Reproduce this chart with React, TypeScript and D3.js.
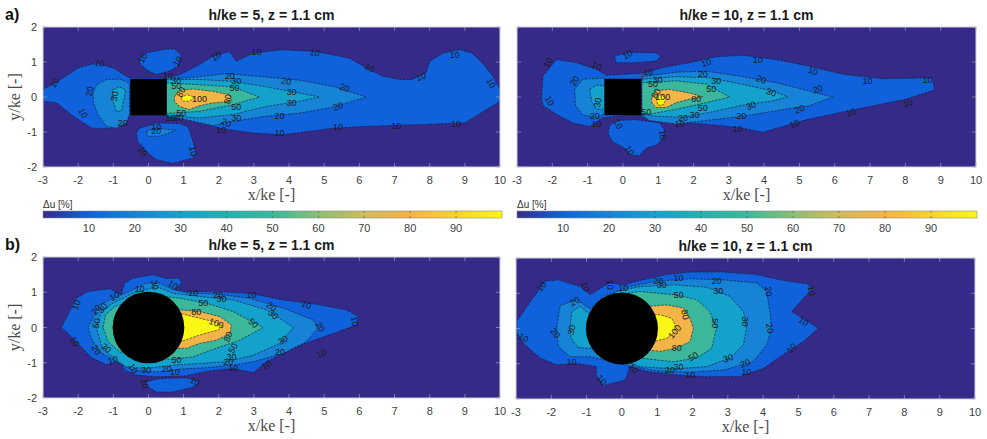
import * as d3 from "d3";

type Pt = [number, number];
type Lbl = [number, number, string, number];

const W = 987;
const H = 439;

const xTicks = [-3, -2, -1, 0, 1, 2, 3, 4, 5, 6, 7, 8, 9, 10];
const yTicks = [-2, -1, 0, 1, 2];
const cbarTicks = [10, 20, 30, 40, 50, 60, 70, 80, 90];
const parulaLevels = [0, 10, 20, 30, 40, 50, 60, 70, 80, 90, 100];
const parulaColors = ["#352a87", "#0f62dc", "#1683d6", "#12a2cc", "#22b2b0", "#3bb89c", "#8bbf76", "#d0bb5c", "#f4b446", "#f6d52a", "#f9f714"];
const titles = ["h/ke = 5, z = 1.1 cm", "h/ke = 10, z = 1.1 cm", "h/ke = 5, z = 1.1 cm", "h/ke = 10, z = 1.1 cm"];
const obstacleHalfSide = 0.52;
const cylinderRadius = 1.02;

// ---- a) square element, h/ke = 5
const sq5Level10: Pt[] = [[-3,0.21],[-2.57,0.45],[-2.0,0.83],[-1.5,0.97],[-1.0,0.83],[-0.55,0.55],[0.52,0.55],[0.9,0.64],[1.45,0.92],[1.83,1.16],[2.3,1.3],[2.5,1.02],[2.97,1.25],[3.82,1.35],[4.77,1.3],[5.72,1.11],[6.2,0.83],[6.67,0.59],[7.14,0.5],[7.5,0.5],[7.9,0.69],[8.0,1.02],[8.4,1.26],[8.85,1.35],[9.2,1.26],[9.5,0.97],[9.8,0.59],[10,0.21],[10,-0.12],[9.0,-0.74],[7.6,-0.79],[6.2,-0.84],[5.25,-0.89],[3.82,-1.08],[2.97,-1.03],[2.0,-0.89],[1.45,-0.69],[0.9,-0.55],[0.52,-0.52],[-0.52,-0.52],[-0.7,-0.75],[-1.1,-0.9],[-1.6,-0.89],[-2.1,-0.58],[-2.6,-0.17],[-3,-0.12]];
const sq5Top10: Pt[] = [[-0.25,1.11],[-0.06,1.26],[0.51,1.37],[0.74,1.37],[0.93,1.21],[0.84,0.88],[0.6,0.74],[0.22,0.64],[-0.06,0.78],[-0.25,0.97]];
const sq5Bottom10: Pt[] = [[-0.25,-0.89],[0.22,-0.74],[0.89,-0.76],[1.12,-0.84],[1.22,-1.12],[1.36,-1.6],[1.27,-1.74],[0.7,-1.89],[0.22,-1.79],[-0.01,-1.6],[-0.3,-1.27],[-0.35,-1.03]];
const sq5Bottom20: Pt[] = [[-0.06,-0.98],[0.22,-0.89],[0.79,-0.95],[0.32,-1.12],[-0.02,-1.12]];
const sq5Left20: Pt[] = [[-1.58,0.11],[-1.48,0.35],[-1.2,0.5],[-0.82,0.51],[-0.54,0.4],[-0.54,-0.5],[-0.63,-0.74],[-0.91,-0.89],[-1.2,-0.84],[-1.44,-0.5],[-1.56,-0.17]];
const sq5Left30: Pt[] = [[-1.01,0.21],[-0.82,0.29],[-0.65,0.21],[-0.7,-0.08],[-0.77,-0.41],[-0.91,-0.41],[-1.01,-0.12]];
const sq5Wake20: Pt[] = [[0.51,0.57],[1.08,0.54],[2.21,0.67],[3.35,0.57],[4.3,0.48],[5.25,0.3],[6.2,0],[5.25,-0.29],[4.3,-0.46],[3.35,-0.55],[2.4,-0.7],[1.83,-0.82],[1.08,-0.65],[0.51,-0.55]];
const sq5Wake30: Pt[] = [[0.51,0.5],[1.45,0.5],[2.4,0.45],[3.35,0.29],[4.3,0.11],[4.87,0],[4.3,-0.12],[3.35,-0.27],[2.4,-0.5],[1.45,-0.6],[0.51,-0.53]];
const sq5Wake50: Pt[] = [[0.51,0.4],[1.45,0.35],[2.4,0.29],[3.16,0],[2.4,-0.22],[1.45,-0.41],[0.7,-0.46],[0.51,-0.46]];
const sq5Wake80: Pt[] = [[0.74,0.02],[0.88,0.19],[1.27,0.23],[1.83,0.16],[2.31,0.07],[2.36,-0.12],[1.83,-0.17],[1.45,-0.25],[1.16,-0.36],[0.88,-0.27],[0.74,-0.12]];
const sq5Wake100: Pt[] = [[0.93,-0.03],[1.08,0.07],[1.31,0],[1.17,-0.12],[0.98,-0.12]];
const sq5Labels: Lbl[] = [[-2.67,0.4,"10",-60],[-1.39,0.97,"10",15],[-1.67,0.16,"20",-80],[-0.96,0.02,"30",-80],[-1.86,-0.46,"10",60],[-0.73,-0.74,"20",0],[-0.16,1.11,"10",-60],[0.84,1.02,"10",-60],[1.93,1.16,"10",-30],[3.07,1.28,"10",0],[4.73,1.26,"10",10],[6.29,0.83,"10",30],[7.76,0.57,"10",-20],[8.71,1.21,"10",0],[9.75,0.4,"10",60],[2.31,0.59,"20",0],[2.5,0.45,"30",0],[3.92,0.45,"20",10],[4.07,0.13,"30",0],[5.58,0.26,"20",20],[2.45,0.26,"50",0],[4.07,-0.17,"30",0],[5.39,-0.27,"20",-20],[2.5,-0.29,"50",0],[3.73,-0.53,"20",0],[2.5,-0.6,"30",0],[2.21,-0.74,"20",30],[2.07,-0.95,"10",0],[3.73,-1.03,"10",0],[5.39,-0.86,"10",0],[7.05,-0.82,"10",0],[8.75,-0.76,"10",0],[1.45,-0.06,"100",0],[2.26,-0.06,"80",-80],[0.79,0.32,"50",0],[0.79,0.47,"30",0],[0.55,0.6,"10",0],[0.93,0.14,"80",-60],[0.93,-0.46,"50",0],[0.62,-0.6,"10",0],[0.85,-0.6,"30",0],[0.22,-0.86,"10",0],[0.22,-0.98,"20",0],[-0.16,-1.55,"10",60],[1.27,-1.55,"10",80]];

// ---- a) square element, h/ke = 10
const sq10Level10: Pt[] = [[-2.31,-0.06],[-2.26,0.6],[-1.89,1.07],[-1.32,0.98],[-0.75,0.79],[-0.47,0.62],[0.57,0.68],[1.13,0.84],[1.89,0.98],[2.64,1.15],[3.4,1.19],[4.34,1.07],[5.28,0.88],[6.23,0.65],[7.36,0.52],[8.77,0.55],[8.82,0.2],[8.02,-0.06],[6.6,-0.35],[5.19,-0.65],[3.96,-1.01],[3.4,-0.89],[2.83,-0.82],[1.89,-0.74],[1.13,-0.65],[0.57,-0.53],[0,-0.53],[-0.57,-0.59],[-0.94,-0.84],[-1.42,-0.74],[-1.89,-0.49],[-2.26,-0.25]];
const sq10Top10: Pt[] = [[-0.24,1.17],[0.19,1.28],[0.94,1.26],[1.08,1.17],[0.94,1.03],[0.28,0.98],[-0.19,0.98]];
const sq10Bottom10: Pt[] = [[-0.38,-0.82],[-0.19,-0.67],[0.38,-0.65],[1.04,-0.74],[1.18,-0.96],[1.13,-1.19],[0.94,-1.38],[0.66,-1.46],[0.47,-1.67],[0.24,-1.67],[0,-1.43],[-0.28,-1.29],[-0.42,-1.05]];
const sq10Left20: Pt[] = [[-1.37,0.22],[-1.13,0.51],[-0.57,0.54],[-0.52,0.51],[-0.52,-0.49],[-0.75,-0.58],[-1.13,-0.51],[-1.34,-0.25]];
const sq10Left30: Pt[] = [[-0.94,0.22],[-0.75,0.34],[-0.52,0.32],[-0.52,-0.35],[-0.75,-0.35],[-0.89,-0.11]];
const sq10Wake20: Pt[] = [[0.54,0.58],[1.51,0.71],[2.36,0.74],[3.4,0.58],[4.34,0.41],[5.28,0.17],[5.94,0],[5.28,-0.25],[4.34,-0.39],[3.4,-0.55],[2.36,-0.67],[1.51,-0.77],[0.75,-0.67],[0.54,-0.53]];
const sq10Wake30: Pt[] = [[0.54,0.51],[1.51,0.58],[2.45,0.55],[3.4,0.36],[4.25,0.17],[4.67,0],[4.25,-0.11],[3.4,-0.23],[2.45,-0.44],[1.7,-0.58],[0.94,-0.55],[0.54,-0.49]];
const sq10Wake50: Pt[] = [[0.54,0.41],[1.51,0.46],[2.36,0.37],[3.02,0],[2.36,-0.16],[1.51,-0.35],[0.75,-0.49],[0.54,-0.46]];
const sq10Wake80: Pt[] = [[0.8,-0.06],[0.94,0.18],[1.32,0.22],[1.89,0.11],[2.26,0.01],[1.89,-0.06],[1.51,-0.16],[1.23,-0.3],[0.94,-0.3],[0.83,-0.2]];
const sq10Wake100: Pt[] = [[0.94,-0.01],[1.08,0.08],[1.23,-0.06],[1.13,-0.23],[0.99,-0.23]];
const sq10Labels: Lbl[] = [[-2.12,0.98,"10",-60],[-0.75,0.88,"10",30],[-1.37,0.46,"20",-60],[-0.71,-0.16,"30",-80],[-2.08,-0.11,"10",60],[-0.8,-0.53,"20",0],[-0.75,-0.77,"10",0],[0.14,1.21,"10",-30],[0.72,0.72,"10",0],[0.99,0.48,"30",0],[0.85,0.36,"50",0],[1.13,-0.01,"100",0],[0.94,0.1,"80",-60],[2.08,-0.06,"80",0],[2.26,-0.3,"50",0],[2.26,0.65,"20",0],[2.64,0.46,"30",0],[2.5,0.22,"50",0],[2.36,0.98,"10",-20],[3.82,1.07,"10",0],[5.38,0.74,"10",20],[3.92,0.5,"20",20],[4.2,0.13,"30",20],[5.52,0.22,"20",-20],[3.63,-0.25,"30",-20],[5.0,-0.35,"20",-20],[3.35,-0.53,"20",0],[6.93,0.46,"10",0],[8.63,0.49,"10",0],[6.46,-0.44,"10",-20],[8.07,-0.17,"10",-20],[4.86,-0.77,"10",-20],[3.25,-0.91,"10",0],[2.03,-0.52,"30",0],[1.7,-0.61,"20",0],[1.6,-0.77,"10",0],[0.66,-0.44,"50",0],[-0.14,-0.77,"10",60],[1.13,-1.08,"10",80],[0.19,-1.53,"10",60]];

// ---- b) cylindrical element, h/ke = 5
const cyl5Level10: Pt[] = [[-2.48,0],[-2.05,0.83],[-1.72,1.02],[-1.1,1.1],[-0.77,0.93],[-0.68,1.26],[-0.44,1.4],[0.13,1.5],[0.51,1.39],[0.89,1.4],[0.94,1.26],[0.75,1.07],[1.08,1.02],[1.93,1.02],[2.88,0.97],[3.83,0.78],[4.78,0.66],[5.63,0.5],[5.97,0.31],[5.92,0.07],[5.25,-0.17],[4.31,-0.5],[3.36,-0.97],[2.98,-1.28],[2.41,-1.16],[1.65,-1.24],[1.08,-1.37],[0.23,-1.4],[-0.34,-1.35],[-0.68,-1.21],[-0.77,-0.97],[-1.2,-1.05],[-1.62,-0.86],[-1.96,-0.5],[-2.24,-0.21]];
const cyl5Bottom10: Pt[] = [[-0.06,-1.54],[0.32,-1.45],[1.08,-1.43],[1.46,-1.53],[1.27,-1.69],[0.7,-1.83],[0.23,-1.83],[-0.01,-1.69]];
const cyl5Level20: Pt[] = [[-1.72,0],[-1.39,0.64],[-1.01,0.83],[-0.44,1.07],[-0.06,1.26],[0.32,1.26],[0.7,1.07],[1.17,0.97],[1.93,0.95],[2.88,0.83],[3.83,0.55],[4.69,0.21],[4.83,0],[4.49,-0.4],[3.83,-0.74],[2.98,-0.97],[2.41,-1.07],[1.65,-1.14],[0.89,-1.18],[0.32,-1.26],[-0.44,-1.21],[-0.91,-0.97],[-1.39,-0.69],[-1.62,-0.31]];
const cyl5Level30: Pt[] = [[-1.48,0],[-1.34,0.45],[-1.01,0.69],[-0.44,0.97],[0.23,1.16],[0.7,0.97],[1.46,0.88],[2.41,0.78],[3.36,0.5],[4.12,0],[3.74,-0.45],[2.98,-0.79],[2.22,-0.97],[1.46,-1.02],[0.7,-1.07],[-0.06,-1.16],[-0.63,-1.12],[-1.1,-0.78],[-1.34,-0.5]];
const cyl5Level50: Pt[] = [[-1.29,0],[-1.22,0.36],[-0.96,0.59],[0.04,0.93],[0.89,0.83],[1.65,0.69],[2.41,0.45],[3.26,0],[2.6,-0.36],[1.93,-0.59],[1.27,-0.83],[0.7,-0.9],[-0.06,-0.88],[-0.82,-0.69],[-1.15,-0.4]];
const cyl5Level80: Pt[] = [[0.51,0.45],[0.94,0.5],[1.46,0.45],[2.03,0.31],[2.36,0.07],[2.32,-0.17],[1.93,-0.36],[1.46,-0.45],[1.08,-0.59],[0.51,-0.59]];
const cyl5Level100: Pt[] = [[0.51,0.36],[0.98,0.38],[1.46,0.26],[1.84,0.17],[2.13,0.02],[1.98,-0.07],[1.46,-0.21],[0.98,-0.38],[0.51,-0.4]];
const cyl5Labels: Lbl[] = [[-2.05,0.64,"10",-70],[-0.96,0.88,"10",-30],[-1.48,0.5,"20",-50],[-1.3,0.55,"30",-50],[-1.48,0.12,"50",-80],[-2.1,-0.4,"10",60],[-1.48,-0.64,"20",60],[-1.2,-0.59,"30",40],[-1.01,-0.93,"10",-20],[-0.25,1.1,"10",0],[0.18,1.21,"30",80],[0.7,1.21,"10",30],[1.27,0.97,"10",0],[1.98,0.93,"20",0],[2.08,0.8,"30",0],[2.93,0.93,"10",0],[4.49,0.64,"10",20],[1.56,0.69,"50",0],[1.36,0.45,"80",0],[1.93,0.12,"100",20],[3.5,0.59,"20",40],[3.55,0.36,"30",40],[2.98,0.12,"50",40],[4.88,0.02,"20",60],[5.87,0.17,"10",80],[2.27,-0.26,"80",-70],[3.83,-0.36,"30",-30],[3.74,-0.69,"20",0],[3.36,-1.07,"10",-30],[4.92,-0.74,"10",-20],[2.41,-0.59,"50",-60],[0.8,-0.93,"50",0],[2.36,-0.83,"30",0],[2.27,-0.97,"20",0],[2.41,-1.16,"10",0],[0.51,-1.18,"20",0],[0.75,-1.26,"10",0],[-0.06,-1.21,"30",0],[-0.44,-1.16,"10",60],[-0.11,-1.59,"10",80],[1.32,-1.54,"10",30]];

// ---- b) cylindrical element, h/ke = 10
const cyl10Level10: Pt[] = [[-2.98,-0.1],[-2.98,0.2],[-2.6,0.75],[-2.18,1.34],[-1.8,1.38],[-1.19,1.19],[-0.9,0.96],[-0.53,1.19],[-0.34,1.29],[0.04,1.24],[0.61,1.38],[1.27,1.53],[1.93,1.6],[2.87,1.6],[3.82,1.53],[4.57,1.36],[5.28,1.26],[5.37,1.1],[5.14,0.86],[4.81,0.48],[5.23,0.22],[5.56,0.01],[5.14,-0.37],[4.48,-0.8],[4.01,-1.13],[3.34,-1.36],[2.4,-1.37],[1.55,-1.32],[0.7,-1.22],[0.23,-1.08],[0.09,-1.46],[-0.53,-1.62],[-0.73,-1.32],[-0.72,-1.08],[-1.28,-0.99],[-1.85,-1.03],[-2.32,-0.84],[-2.79,-0.42]];
const cyl10Level20: Pt[] = [[-1.85,0.01],[-1.75,0.65],[-1.28,0.82],[-0.9,0.56],[-0.53,0.91],[0.23,1.19],[0.98,1.34],[1.93,1.41],[2.87,1.38],[3.82,1.29],[4.1,1.05],[4.19,0.48],[4.24,0.01],[4.1,-0.46],[3.72,-0.94],[2.87,-1.18],[1.93,-1.24],[0.98,-1.2],[0.32,-1.08],[-0.9,-0.8],[-1.47,-0.8],[-1.8,-0.51]];
const cyl10Level30: Pt[] = [[-1.47,0.01],[-1.42,0.48],[-1.19,0.63],[-0.9,0.39],[-0.15,1.05],[0.51,1.19],[1.46,1.24],[2.4,1.17],[3.06,0.91],[3.44,0.48],[3.53,0.01],[3.44,-0.46],[3.06,-0.84],[2.4,-1.08],[1.46,-1.15],[0.51,-1.08],[-0.9,-0.56],[-1.24,-0.54],[-1.44,-0.27]];
const cyl10Level50: Pt[] = [[-0.15,0.96],[0.51,1.05],[1.46,0.96],[2.12,0.82],[2.49,0.48],[2.68,0.01],[2.54,-0.56],[2.12,-0.84],[1.46,-0.94],[0.51,-0.84],[-0.15,-0.75]];
const cyl10Level80: Pt[] = [[0.8,0.63],[1.27,0.67],[1.74,0.58],[1.93,0.29],[2.02,0.01],[1.93,-0.37],[1.55,-0.56],[1.08,-0.65],[0.8,-0.61]];
const cyl10Level100: Pt[] = [[0.7,0.39],[1.08,0.39],[1.41,0.29],[1.51,0.1],[1.46,-0.13],[1.27,-0.28],[0.89,-0.37],[0.7,-0.37]];
const cyl10Labels: Lbl[] = [[-2.27,1.19,"10",-50],[-1.04,1.19,"10",70],[-1.33,0.77,"20",-30],[-1.89,-0.13,"20",50],[-1.42,-0.04,"30",-80],[-2.79,-0.27,"10",30],[-1.43,-0.94,"10",0],[-0.34,1.24,"10",80],[0.04,1.15,"10",0],[-0.57,-1.46,"10",50],[0.32,-1.13,"10",50],[1.03,1.34,"20",0],[1.6,1.43,"10",0],[1.13,1.24,"30",0],[2.68,1.34,"20",0],[2.73,1.07,"30",0],[4.15,1.05,"20",80],[5.37,1.07,"10",80],[5.14,0.2,"10",30],[4.81,-0.56,"10",-50],[1.6,0.96,"50",0],[1.79,0.39,"80",80],[2.64,0.15,"50",90],[3.49,0.2,"30",90],[4.19,0.01,"20",80],[1.5,-0.09,"100",-50],[1.55,-0.54,"80",0],[2.02,-0.8,"50",-30],[3.01,-0.84,"30",-20],[3.49,-0.99,"20",-20],[3.53,-1.22,"10",0],[1.6,-1.08,"30",0],[1.36,-1.18,"20",0],[1.93,-1.32,"10",0]];

const color = d3.scaleLinear<string>().domain(parulaLevels).range(parulaColors).interpolate(d3.interpolateRgb);

type Region = { level: number; pts: Pt[] };
type PanelDef = {
  x0: number; x1: number; y0: number; y1: number;
  title: string; tag?: string; shape: "square" | "circle"; yLabels: boolean;
  regions: Region[]; labels: Lbl[];
};

const panels: PanelDef[] = [
  { x0: 43, x1: 500, y0: 27, y1: 167, title: titles[0], tag: "a)", shape: "square", yLabels: true,
    regions: [
      { level: 10, pts: sq5Level10 }, { level: 10, pts: sq5Top10 }, { level: 10, pts: sq5Bottom10 },
      { level: 20, pts: sq5Bottom20 }, { level: 20, pts: sq5Left20 }, { level: 20, pts: sq5Wake20 },
      { level: 30, pts: sq5Left30 }, { level: 30, pts: sq5Wake30 }, { level: 50, pts: sq5Wake50 },
      { level: 80, pts: sq5Wake80 }, { level: 100, pts: sq5Wake100 },
    ], labels: sq5Labels },
  { x0: 517, x1: 976, y0: 27, y1: 167, title: titles[1], shape: "square", yLabels: false,
    regions: [
      { level: 10, pts: sq10Level10 }, { level: 10, pts: sq10Top10 }, { level: 10, pts: sq10Bottom10 },
      { level: 20, pts: sq10Left20 }, { level: 20, pts: sq10Wake20 },
      { level: 30, pts: sq10Left30 }, { level: 30, pts: sq10Wake30 }, { level: 50, pts: sq10Wake50 },
      { level: 80, pts: sq10Wake80 }, { level: 100, pts: sq10Wake100 },
    ], labels: sq10Labels },
  { x0: 43, x1: 500, y0: 257, y1: 398, title: titles[2], tag: "b)", shape: "circle", yLabels: true,
    regions: [
      { level: 10, pts: cyl5Level10 }, { level: 10, pts: cyl5Bottom10 }, { level: 20, pts: cyl5Level20 },
      { level: 30, pts: cyl5Level30 }, { level: 50, pts: cyl5Level50 }, { level: 80, pts: cyl5Level80 },
      { level: 100, pts: cyl5Level100 },
    ], labels: cyl5Labels },
  { x0: 516, x1: 975, y0: 258, y1: 399, title: titles[3], shape: "circle", yLabels: false,
    regions: [
      { level: 10, pts: cyl10Level10 }, { level: 20, pts: cyl10Level20 }, { level: 30, pts: cyl10Level30 },
      { level: 50, pts: cyl10Level50 }, { level: 80, pts: cyl10Level80 }, { level: 100, pts: cyl10Level100 },
    ], labels: cyl10Labels },
];

const colorbars = [
  { x0: 43, x1: 502, y0: 211, y1: 218 },
  { x0: 517, x1: 977, y0: 211, y1: 218 },
];

const sans = "'Liberation Sans', Arial, sans-serif";
const serif = "'Liberation Serif', 'Times New Roman', serif";

function Panel({ p, i }: { p: PanelDef; i: number }) {
  const x = d3.scaleLinear().domain([-3, 10]).range([p.x0, p.x1]);
  const y = d3.scaleLinear().domain([-2, 2]).range([p.y1, p.y0]);
  const line = d3.line<Pt>().x(d => x(d[0])).y(d => y(d[1])).curve(d3.curveLinearClosed);
  const cx = (p.x0 + p.x1) / 2;
  const cy = (p.y0 + p.y1) / 2;
  const clipId = `clip${i}`;
  return (
    <g>
      <defs>
        <clipPath id={clipId}>
          <rect x={p.x0} y={p.y0} width={p.x1 - p.x0} height={p.y1 - p.y0} />
        </clipPath>
      </defs>
      <g clipPath={`url(#${clipId})`}>
        <rect x={p.x0} y={p.y0} width={p.x1 - p.x0} height={p.y1 - p.y0} fill={color(0)} />
        {p.regions.map((r, k) => (
          <path key={k} d={line(r.pts) ?? ""} fill={color(r.level)} stroke="#15152a" strokeWidth={0.7}
            strokeOpacity={0.85} strokeDasharray="2.5,1.2" />
        ))}
        {p.shape === "square" ? (
          <rect x={x(-obstacleHalfSide)} y={y(obstacleHalfSide)} width={x(obstacleHalfSide) - x(-obstacleHalfSide)}
            height={y(-obstacleHalfSide) - y(obstacleHalfSide)} fill="#000" />
        ) : (
          <circle cx={x(0)} cy={y(0)} r={x(cylinderRadius) - x(0)} fill="#000" />
        )}
        {p.labels.map((l, k) => (
          <text key={k} x={x(l[0])} y={y(l[1])} transform={`rotate(${l[3]},${x(l[0])},${y(l[1])})`}
            textAnchor="middle" dominantBaseline="central" fontFamily={sans} fontSize={9} fill="#1a1a1a">{l[2]}</text>
        ))}
      </g>
      {xTicks.map(t => (
        <g key={`xt${t}`}>
          <line x1={x(t)} x2={x(t)} y1={p.y1} y2={p.y1 - 4} stroke="#9a9ab5" strokeWidth={0.7} />
          <line x1={x(t)} x2={x(t)} y1={p.y0} y2={p.y0 + 4} stroke="#9a9ab5" strokeWidth={0.7} />
          <text x={x(t)} y={p.y1 + 17} textAnchor="middle" fontFamily={sans} fontSize={11} fill="#404040">{t}</text>
        </g>
      ))}
      {yTicks.map(t => (
        <g key={`yt${t}`}>
          <line x1={p.x0} x2={p.x0 + 4} y1={y(t)} y2={y(t)} stroke="#9a9ab5" strokeWidth={0.7} />
          <line x1={p.x1} x2={p.x1 - 4} y1={y(t)} y2={y(t)} stroke="#9a9ab5" strokeWidth={0.7} />
          {p.yLabels && (
            <text x={p.x0 - 6} y={y(t)} textAnchor="end" dominantBaseline="central" fontFamily={sans} fontSize={11} fill="#404040">{t}</text>
          )}
        </g>
      ))}
      <rect x={p.x0} y={p.y0} width={p.x1 - p.x0} height={p.y1 - p.y0} fill="none" stroke="#cfcfd8" strokeWidth={1} />
      <text x={cx} y={p.y0 - 7} textAnchor="middle" fontFamily={sans} fontWeight="bold" fontSize={14} fill="#1a1a1a">{p.title}</text>
      <text x={cx} y={p.y1 + 33} textAnchor="middle" fontFamily={serif} fontSize={16} fill="#4a4a4a">x/ke [-]</text>
      {p.yLabels && (
        <text transform={`translate(${p.x0 - 23},${cy}) rotate(-90)`} textAnchor="middle" fontFamily={serif} fontSize={16} fill="#4a4a4a">y/ke [-]</text>
      )}
      {p.tag && (
        <text x={5} y={p.y0 - 7} fontFamily={sans} fontWeight="bold" fontSize={16} fill="#111">{p.tag}</text>
      )}
    </g>
  );
}

function Colorbar({ c, i }: { c: typeof colorbars[0]; i: number }) {
  const s = d3.scaleLinear().domain([0, 100]).range([c.x0, c.x1]);
  const gid = `cbar${i}`;
  return (
    <g>
      <defs>
        <linearGradient id={gid} x1="0" x2="1" y1="0" y2="0">
          {parulaLevels.map((v, k) => (
            <stop key={k} offset={`${v}%`} stopColor={color(v)} />
          ))}
        </linearGradient>
      </defs>
      <rect x={c.x0} y={c.y0} width={c.x1 - c.x0} height={c.y1 - c.y0} fill={`url(#${gid})`} stroke="#8a8a8a" strokeWidth={0.6} />
      {cbarTicks.map(t => (
        <g key={t}>
          <line x1={s(t)} x2={s(t)} y1={c.y0} y2={c.y0 + 2} stroke="#555" strokeWidth={0.6} />
          <line x1={s(t)} x2={s(t)} y1={c.y1} y2={c.y1 - 2} stroke="#555" strokeWidth={0.6} />
          <text x={s(t)} y={c.y1 + 14} textAnchor="middle" fontFamily={sans} fontSize={11} fill="#404040">{t}</text>
        </g>
      ))}
      <text x={c.x0} y={c.y0 - 3} fontFamily={sans} fontSize={10} fill="#333">Δu [%]</text>
    </g>
  );
}

export default function App() {
  return (
    <svg width={W} height={H} style={{ position: "absolute", left: 0, top: 0, background: "#fff" }}>
      {panels.map((p, i) => <Panel key={i} p={p} i={i} />)}
      {colorbars.map((c, i) => <Colorbar key={i} c={c} i={i} />)}
    </svg>
  );
}
